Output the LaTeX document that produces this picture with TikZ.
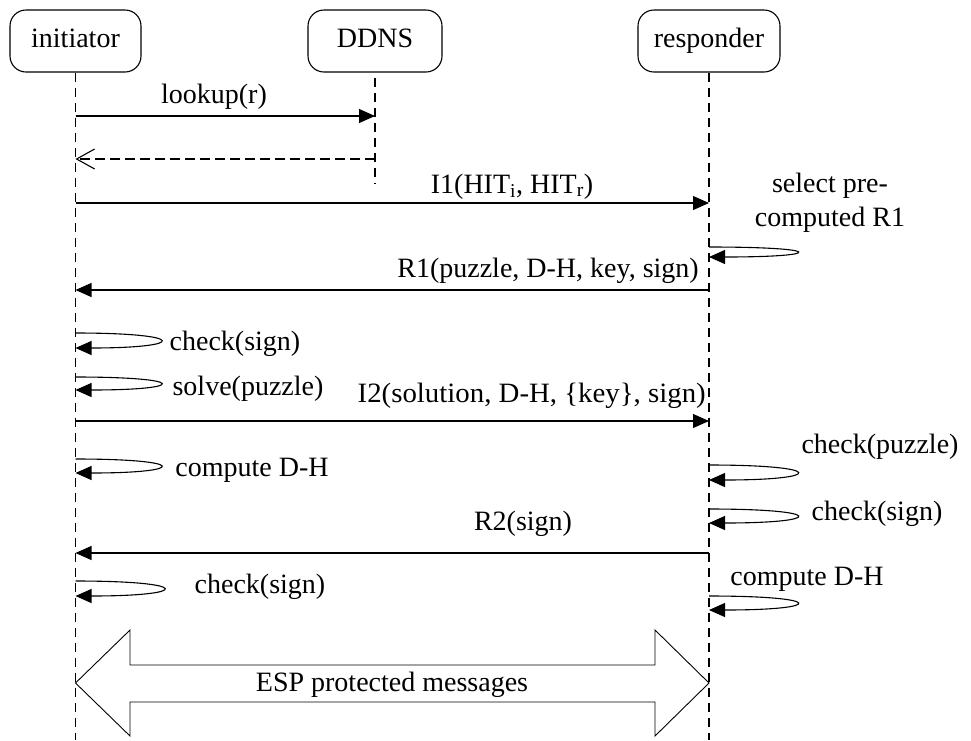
\documentclass[tikz,border=0pt]{standalone}
\usepackage{graphicx}
\usepackage{fontspec}
\setmainfont{Liberation Serif}
\usetikzlibrary{arrows.meta}
\begin{document}
\begin{tikzpicture}[x=1pt,y=-1pt,
  actor/.style={draw, line width=1.1pt, rounded corners=16pt, minimum height=62pt,
    inner sep=0pt, text height=19pt, text depth=6pt, font=\fontsize{28}{32}\selectfont},
  life/.style={line width=1.1pt, dash pattern=on 9pt off 6pt},
  msg/.style={line width=1.1pt, -{Triangle[length=16pt,width=14pt]}},
  ret/.style={line width=1.1pt, dash pattern=on 10pt off 5pt,
    -{Straight Barb[length=18pt,width=20pt,line width=1.1pt]}},
  selfr/.style={msg, rounded corners=0pt},
  lbl/.style={font=\fontsize{28}{34}\selectfont, inner sep=0pt, anchor=base},
  bigarrow/.style={draw, line width=0.9pt, fill=white},
]
\useasboundingbox (0,0) rectangle (971,740);

% actors
\node[actor, minimum width=131pt] (init) at (75.5,41) {initiator};
\node[actor, minimum width=134pt] (ddns) at (375,41) {DDNS};
\node[actor, minimum width=142pt] (resp) at (709,41) {responder};

% lifeline ends
\coordinate (initEnd) at (75.5,740);
\coordinate (ddnsTop) at (375,78);
\coordinate (ddnsEnd) at (375,184);
\coordinate (respEnd) at (709,740);

\draw[life] (init.south) -- (initEnd);
\draw[life] (ddnsTop) -- (ddnsEnd);
\draw[life] (resp.south) -- (respEnd);

% message anchor points
\coordinate (lkA) at (75.5,116);  \coordinate (lkB) at (375,116);
\coordinate (rtA) at (375,159);   \coordinate (rtB) at (75.5,159);
\coordinate (i1A) at (75.5,203);  \coordinate (i1B) at (709,203);
\coordinate (r1A) at (709,290);   \coordinate (r1B) at (75.5,290);
\coordinate (i2A) at (75.5,421);  \coordinate (i2B) at (709,421);
\coordinate (r2A) at (709,553);   \coordinate (r2B) at (75.5,553);

\draw[msg] (lkA) -- (lkB);
\draw[ret] (rtA) -- (rtB);
\draw[msg] (i1A) -- (i1B);
\draw[msg] (r1A) -- (r1B);
\draw[msg] (i2A) -- (i2B);
\draw[msg] (r2A) -- (r2B);

% self loops
\coordinate (s1a) at (709,247);  \coordinate (s1b) at (709,257);
\coordinate (s2a) at (75.5,333); \coordinate (s2b) at (75.5,348);
\coordinate (s3a) at (75.5,377); \coordinate (s3b) at (75.5,390);
\coordinate (s4a) at (75.5,459); \coordinate (s4b) at (75.5,473);
\coordinate (s5a) at (709,465);  \coordinate (s5b) at (709,480);
\coordinate (s6a) at (709,509);  \coordinate (s6b) at (709,523);
\coordinate (s7a) at (75.5,581); \coordinate (s7b) at (75.5,596);
\coordinate (s8a) at (709,596);  \coordinate (s8b) at (709,610);

\draw[selfr] (s1a) .. controls +(117,0) and +(117,0) .. (s1b);
\draw[selfr] (s2a) .. controls +(113,0) and +(113,0) .. (s2b);
\draw[selfr] (s3a) .. controls +(113,0) and +(113,0) .. (s3b);
\draw[selfr] (s4a) .. controls +(113,0) and +(113,0) .. (s4b);
\draw[selfr] (s5a) .. controls +(117,0) and +(117,0) .. (s5b);
\draw[selfr] (s6a) .. controls +(117,0) and +(117,0) .. (s6b);
\draw[selfr] (s7a) .. controls +(117,0) and +(117,0) .. (s7b);
\draw[selfr] (s8a) .. controls +(117,0) and +(117,0) .. (s8b);

% labels
\node[lbl] (lLookup) at (214,103) {lookup(r)};
\node[lbl] (lI1) at (512,193) {I1(HIT\textsubscript{i}, HIT\textsubscript{r})};
\node[font=\fontsize{28}{34}\selectfont, inner sep=0pt, align=center] (lSel) at (830,203) {select pre-\\computed R1};
\node[lbl, anchor=base east] (lR1) at (699,277) {R1(puzzle, D-H, key, sign)};
\node[lbl] (lChk1) at (235,350) {check(sign)};
\node[lbl] (lSolve) at (248,395) {solve(puzzle)};
\node[lbl, anchor=base east] (lI2) at (706,402) {\scalebox{1.03}[1]{I2(solution, D-H, \{key\}, sign)}};
\node[lbl] (lCompI) at (252,476) {compute D-H};
\node[lbl] (lChkP) at (880,453) {check(puzzle)};
\node[lbl] (lChkR) at (877,520) {check(sign)};
\node[lbl] (lR2) at (523,530) {R2(sign)};
\node[lbl] (lChk2) at (260,593) {check(sign)};
\node[lbl] (lCompR) at (807,585) {compute D-H};

% ESP double arrow
\draw[bigarrow] (75.5,683) -- (130,630) -- (130,665) -- (655,665) -- (655,630)
  -- (709,683) -- (655,736) -- (655,702) -- (130,702) -- (130,736) -- cycle;
\node[font=\fontsize{28}{34}\selectfont, inner sep=0pt] (lEsp) at (392,685) {ESP protected messages};
\end{tikzpicture}
\end{document}
